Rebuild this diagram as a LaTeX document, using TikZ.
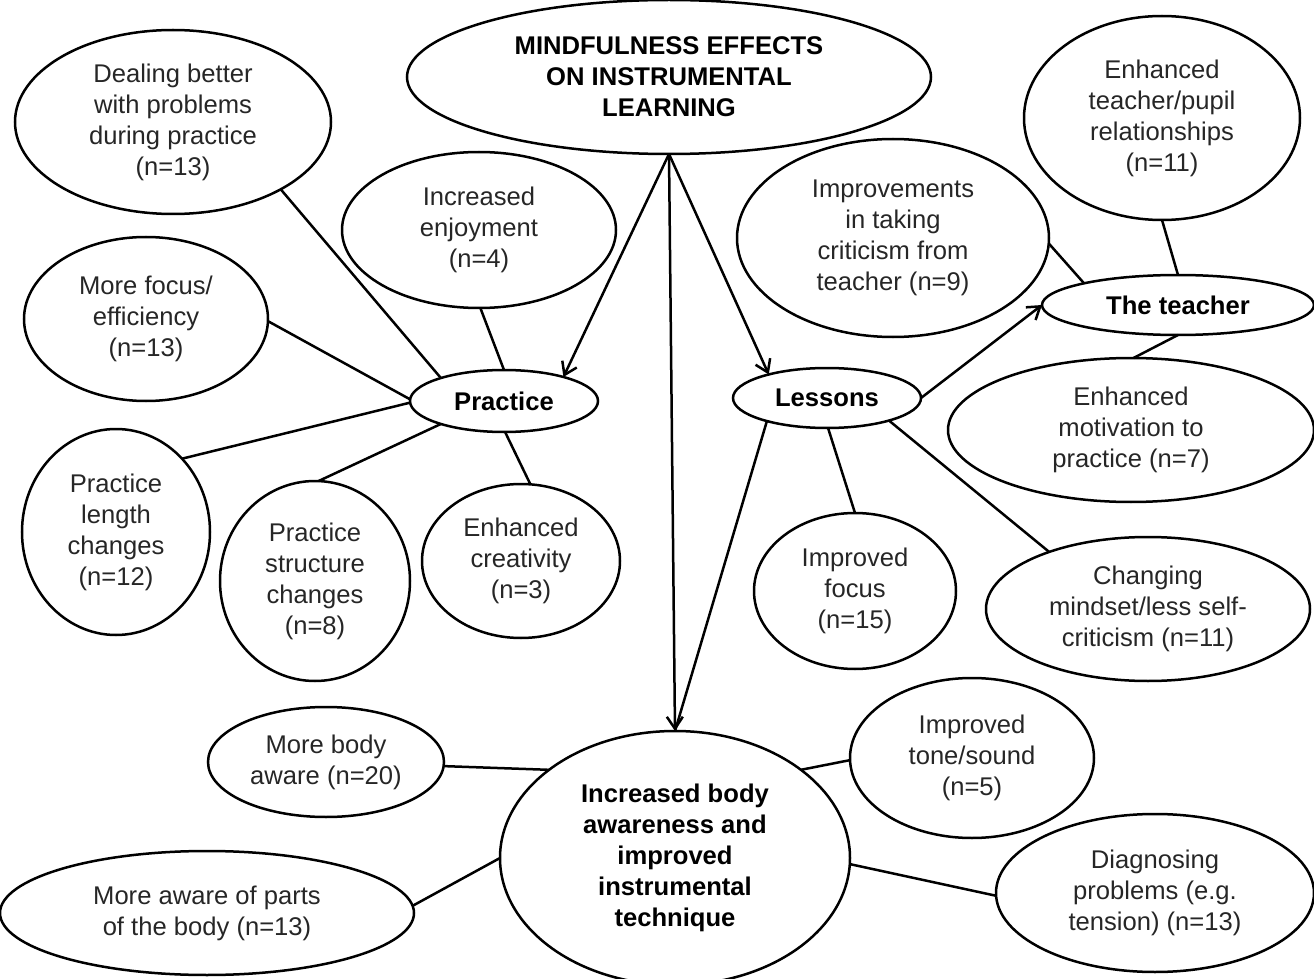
\documentclass[tikz,border=0pt]{standalone}
\usepackage{fontspec}
\setmainfont{Liberation Sans}
\usetikzlibrary{arrows.meta,shapes.geometric}
\begin{document}
\begin{tikzpicture}[x=0.5pt,y=-0.5pt,
  bub/.style 2 args={draw, ellipse, line width=1.25pt, inner sep=-80pt, outer sep=0pt,
    minimum width=#1pt, minimum height=#2pt, align=center,
    font=\fontsize{12.8}{15.5}\selectfont, text=black!85},
  bold/.style={font=\fontsize{12.8}{15.5}\selectfont\bfseries, text=black},
  con/.style={line width=1.25pt},
  arr/.style={line width=1.25pt, -{Straight Barb[length=6pt,width=8pt,line width=1.25pt]}}
]
\useasboundingbox (0,0) rectangle (1314,979);

% nodes
\node[bub={262}{77}, bold] (main) at (669,77) {MINDFULNESS EFFECTS\\ON INSTRUMENTAL\\LEARNING};
\node[bub={158}{92}] (dealing) at (173,122) {Dealing better\\with problems\\during practice\\(n=13)};
\node[bub={137}{78}] (enjoy) at (479,230) {Increased\\enjoyment\\(n=4)};
\node[bub={122}{82}] (focuseff) at (146,319) {More focus/\\efficiency\\(n=13)};
\node[bub={94}{31}, bold] (practice) at (504,401) {Practice};
\node[bub={94}{103}] (length) at (116,532) {Practice\\length\\changes\\(n=12)};
\node[bub={95}{100}] (structure) at (315,581) {Practice\\structure\\changes\\(n=8)};
\node[bub={99}{77}] (creativity) at (521,561) {Enhanced\\creativity\\(n=3)};
\node[bub={94}{30}, bold] (lessons) at (827,398) {Lessons};
\node[bub={156}{99}] (criticism) at (893,238) {Improvements\\in taking\\criticism from\\teacher (n=9)};
\node[bub={138}{102}] (pupil) at (1162,118) {Enhanced\\teacher/pupil\\relationships\\(n=11)};
\node[bub={136}{30}, bold] (teacher) at (1178,305) {The teacher};
\node[bub={183}{72}] (motivation) at (1131,430) {Enhanced\\motivation to\\practice (n=7)};
\node[bub={101}{78}] (focus) at (855,591) {Improved\\focus\\(n=15)};
\node[bub={162}{72}] (mindset) at (1148,609) {Changing\\mindset/less self-\\criticism (n=11)};
\node[bub={122}{80}] (tone) at (972,758) {Improved\\tone/sound\\(n=5)};
\node[bub={159}{79}] (diagnosing) at (1155,893) {Diagnosing\\problems (e.g.\\tension) (n=13)};
\node[bub={175}{127}, bold] (body) at (675,858) {Increased body\\awareness and\\improved\\instrumental\\technique};
\node[bub={118}{55}] (bodyaware) at (326,762) {More body\\aware (n=20)};
\node[bub={207}{62}] (parts) at (207,913) {More aware of parts\\of the body (n=13)};

% arrows from the main node
\draw[arr] (main.-90) -- (practice.22);
\draw[arr] (main.-90) -- (lessons.158);
\draw[arr] (main.-90) -- (body.north);
\draw[arr] (lessons.0) -- (teacher.180);

% practice connectors
\draw[con] (dealing.-32) -- (practice.160);
\draw[con] (enjoy.-89) -- (practice.90);
\draw[con] (focuseff.-1) -- (practice.179);
\draw[con] (length.48) -- (practice.181);
\draw[con] (structure.88) -- (practice.-160);
\draw[con] (creativity.83) -- (practice.-88);

% lessons connectors
\draw[con] (lessons.-159) -- (body.north);
\draw[con] (lessons.-88) -- (focus.north);
\draw[con] (lessons.-20) -- (mindset.150);

% teacher connectors
\draw[con] (criticism.-2) -- (teacher.167);
\draw[con] (pupil.-90) -- (teacher.north);
\draw[con] (teacher.south) -- (motivation.88);

% body connectors
\draw[con] (bodyaware.-2) -- (body.145);
\draw[con] (parts.2) -- (body.180);
\draw[con] (tone.181) -- (body.35);
\draw[con] (diagnosing.181) -- (body.-2);
\end{tikzpicture}
\end{document}
